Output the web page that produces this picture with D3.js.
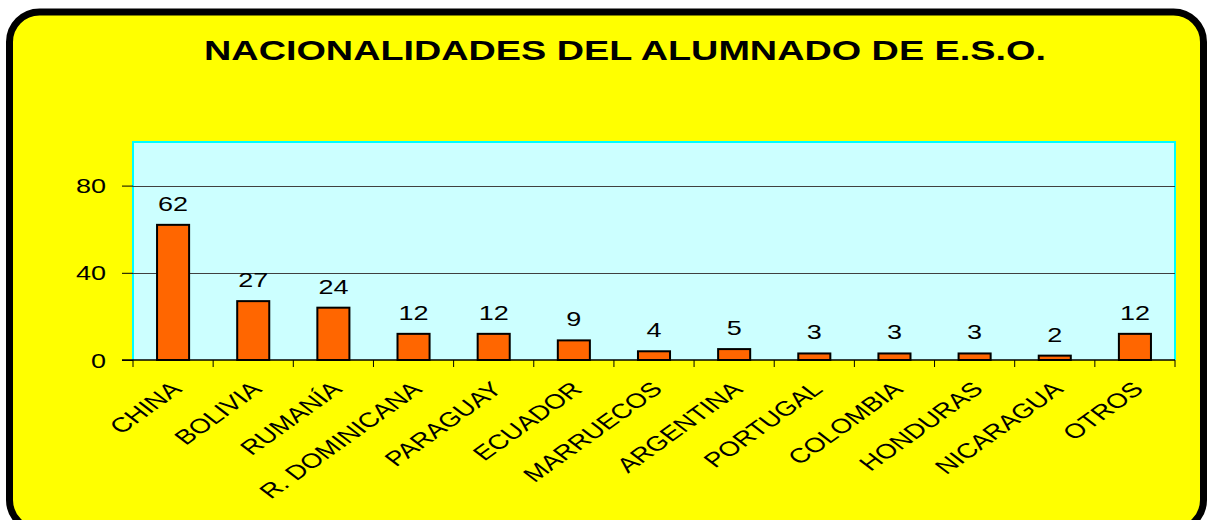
<!DOCTYPE html>
<html>
<head>
<meta charset="utf-8">
<script src="https://cdn.jsdelivr.net/npm/d3@7"></script>
<style>
  body { margin: 0; background: #fff; }
  text { font-family: "Liberation Sans", Arial, sans-serif; }
</style>
</head>
<body>
<div class="canvas"></div>
<script>
const svgWidth = 1208;
const svgHeight = 520;

// data
const paises = ['CHINA', 'BOLIVIA', 'RUMANÍA', 'R. DOMINICANA', 'PARAGUAY', 'ECUADOR',
    'MARRUECOS', 'ARGENTINA', 'PORTUGAL', 'COLOMBIA', 'HONDURAS', 'NICARAGUA', 'OTROS'];
const alumnos = [62, 27, 24, 12, 12, 9, 4, 5, 3, 3, 3, 2, 12];
const yTicks = [0, 40, 80];
const yMax = 100;
const titulo = 'NACIONALIDADES DEL ALUMNADO DE E.S.O.';

// the original picture is stretched sideways, so text gets the same stretch
const stretch = 1.35;

const svg = d3.select('.canvas')
    .append('svg')
    .attr('width', svgWidth)
    .attr('height', svgHeight);

// yellow card with rounded black frame (bottom runs off the picture)
svg.append('rect')
    .attr('x', 9.5)
    .attr('y', 12)
    .attr('width', 1194)
    .attr('height', 518)
    .attr('rx', 30)
    .attr('fill', '#ffff00')
    .attr('stroke', '#000')
    .attr('stroke-width', 7);

svg.append('text')
    .attr('transform', `translate(625, 60) scale(${stretch}, 1)`)
    .attr('text-anchor', 'middle')
    .attr('font-size', 28)
    .attr('font-weight', 'bold')
    .text(titulo);

/*** SETUP ***/
const plot = { left: 133, right: 1175, top: 142, bottom: 360 };

const y = d3.scaleLinear()
    .domain([0, yMax])
    .range([plot.bottom, plot.top]);

const x = d3.scaleBand()
    .domain(paises)
    .range([plot.left, plot.right])
    .paddingInner(0.6)
    .paddingOuter(0.3);

const graph = svg.append('g');

// plot background
graph.append('rect')
    .attr('x', plot.left)
    .attr('y', plot.top)
    .attr('width', plot.right - plot.left)
    .attr('height', plot.bottom - plot.top)
    .attr('fill', '#ccffff');

graph.append('path')
    .attr('d', `M${plot.left},${plot.bottom}V${plot.top}H${plot.right}V${plot.bottom}`)
    .attr('fill', 'none')
    .attr('stroke', '#00ffff')
    .attr('stroke-width', 2);

// gridlines
graph.selectAll('line.grid')
    .data(yTicks.filter(d => d > 0))
    .enter()
    .append('line')
        .attr('class', 'grid')
        .attr('x1', plot.left)
        .attr('x2', plot.right)
        .attr('y1', d => Math.round(y(d)) + 0.5)
        .attr('y2', d => Math.round(y(d)) + 0.5)
        .attr('stroke', '#404040')
        .attr('stroke-width', 1);

// y axis: ticks and labels only
const yAxis = d3.axisLeft(y)
    .tickValues(yTicks)
    .tickSize(11)
    .tickPadding(0);

const yAxisGroup = graph.append('g')
    .attr('transform', `translate(${plot.left}, 0)`)
    .call(yAxis);

yAxisGroup.select('.domain').remove();
yAxisGroup.selectAll('line').attr('stroke', '#000');
yAxisGroup.selectAll('text')
    .attr('x', 0)
    .attr('dy', '0.35em')
    .attr('transform', `translate(-27, 0) scale(${stretch}, 1)`)
    .attr('font-size', 20)
    .attr('font-family', '"Liberation Sans", Arial, sans-serif')
    .attr('fill', '#000');

// bars
graph.selectAll('rect.bar')
    .data(alumnos)
    .enter()
    .append('rect')
        .attr('class', 'bar')
        .attr('x', (d, i) => x(paises[i]))
        .attr('y', d => y(d))
        .attr('width', x.bandwidth())
        .attr('height', d => y(0) - y(d))
        .attr('fill', '#ff6600')
        .attr('stroke', '#000')
        .attr('stroke-width', 2);

// value labels
graph.selectAll('text.valor')
    .data(alumnos)
    .enter()
    .append('text')
        .attr('class', 'valor')
        .attr('transform', (d, i) =>
            `translate(${x(paises[i]) + x.bandwidth() / 2}, ${y(d) - 14}) scale(${stretch}, 1)`)
        .attr('text-anchor', 'middle')
        .attr('font-size', 20)
        .text(d => d);

// x axis line with ticks at the band edges
graph.append('line')
    .attr('x1', plot.left - 11)
    .attr('x2', plot.right)
    .attr('y1', plot.bottom)
    .attr('y2', plot.bottom)
    .attr('stroke', '#000')
    .attr('stroke-width', 1.5);

const step = x.step();
const edges = paises.map(p => x(p) - step * x.paddingInner() / 2)
    .concat([plot.right]);

graph.selectAll('line.xtick')
    .data(edges)
    .enter()
    .append('line')
        .attr('class', 'xtick')
        .attr('x1', d => d)
        .attr('x2', d => d)
        .attr('y1', plot.bottom)
        .attr('y2', plot.bottom + 7)
        .attr('stroke', '#000');

// rotated category labels
graph.selectAll('text.pais')
    .data(paises)
    .enter()
    .append('text')
        .attr('class', 'pais')
        .attr('transform', d =>
            `translate(${x(d) + x.bandwidth() / 2 - 4}, ${plot.bottom + 20}) scale(${stretch}, 1) rotate(-44)`)
        .attr('text-anchor', 'end')
        .attr('dy', '0.72em')
        .attr('font-size', 20.5)
        .text(d => d);
</script>
</body>
</html>
